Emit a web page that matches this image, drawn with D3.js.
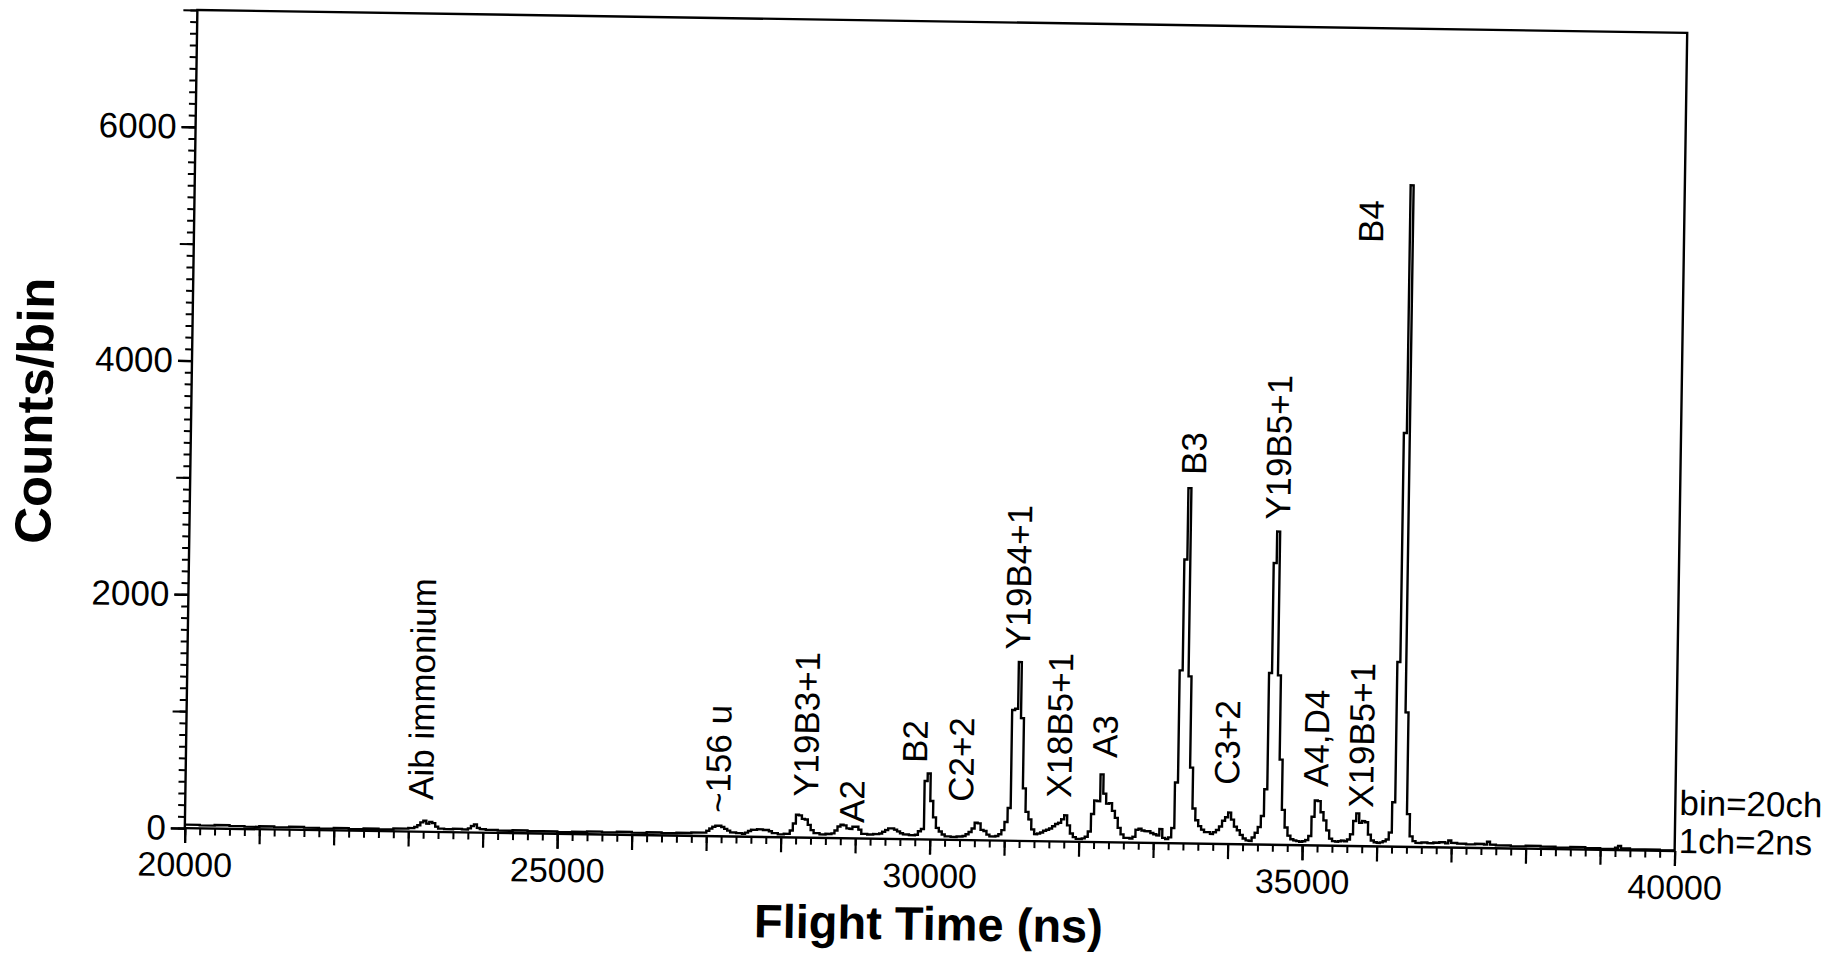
<!DOCTYPE html>
<html>
<head>
<meta charset="utf-8">
<script src="https://cdn.jsdelivr.net/npm/d3@7"></script>
<style>
  html, body { margin: 0; padding: 0; background: #fff; }
  svg { display: block; }
  text { font-family: "Liberation Sans", Arial, Helvetica, sans-serif; fill: #000; }
</style>
</head>
<body>
<svg id="chart" width="1838" height="953"></svg>
<script>
// ---------- data ----------
const flightTimes = [
  20000,20200,20400,20600,20800,21000,21200,21400,21600,21800,22000,22200,22400,22600,22800,23000,
  23080,23120,23160,23200,23240,23280,23320,23360,23400,23480,23600,23720,23800,23840,23880,23920,23960,
  24040,24200,24400,24600,24800,25000,25200,25400,25600,25800,26000,26200,26400,26600,26800,
  27000,27040,27080,27120,27160,27200,27240,27280,27320,27400,27480,27520,
  27560,27600,27680,27760,27840,27880,27960,28040,
  28120,28160,28200,28240,28280,28320,28360,28400,28440,28520,28600,28680,
  28720,28760,28800,28840,28880,28920,28960,29000,29040,29080,29160,29240,29320,
  29360,29400,29440,29480,29520,29560,29600,29640,29720,29800,29840,29880,
  29920,29960,30000,30040,30080,30120,30160,30200,30280,30360,30440,
  30480,30520,30560,30600,30640,30680,30720,30760,30800,30880,30920,
  30960,31000,31040,31080,31120,31160,31200,31240,31280,31320,31360,31400,
  31440,31480,31520,31560,31600,31640,31680,31720,31760,31800,31840,31880,31920,31960,32040,
  32080,32120,32160,32200,32240,32280,32320,32360,32400,32440,32480,32520,32560,32600,32680,
  32720,32760,32800,32840,32880,32920,32960,33000,33040,33080,33120,33160,
  33200,33240,33280,33320,33360,33400,33440,33480,33520,33560,33600,33640,33680,33720,33760,
  33800,33840,33880,33920,33960,34000,34040,34080,34120,34160,34200,34240,34280,
  34320,34360,34400,34440,34480,34520,34560,34600,34640,34680,34720,34760,34800,34840,34880,
  34920,34960,35000,
  35040,35080,35120,35160,35200,35240,35280,35320,35360,35400,35440,35480,35520,35560,
  35600,35640,35680,35720,35760,35800,35840,35880,35920,35960,36000,36040,36080,
  36120,36160,36200,36240,36280,36320,36360,36400,36440,36480,36520,
  36600,36680,36760,36840,36920,36960,37000,37080,37200,37320,37440,37480,37520,37600,37800,
  38000,38200,38400,38600,38800,39000,39200,39240,39280,39400,39600,39800,40000
];
const countsPerBin = [
  30,25,30,25,20,25,20,25,20,15,20,15,20,15,25,30,
  40,55,80,95,70,85,75,45,30,25,30,25,35,55,70,40,30,
  25,20,25,20,20,15,20,25,20,25,20,25,20,25,30,
  45,65,80,90,90,80,65,50,35,30,25,35,
  50,60,65,60,50,35,25,30,
  60,120,195,190,160,155,110,65,40,30,35,40,
  65,100,115,110,85,80,100,100,75,40,35,40,45,
  60,75,90,90,80,65,50,40,35,40,70,90,
  500,565,330,190,100,70,45,30,25,30,35,
  50,70,100,150,145,90,80,50,35,40,55,
  90,160,280,1120,1130,1530,1050,450,250,185,100,60,
  65,75,90,100,110,130,150,160,190,225,140,70,40,25,30,
  45,90,240,355,350,580,415,330,335,270,210,125,70,40,35,
  50,110,120,105,100,100,85,75,65,120,45,35,
  50,130,520,1480,2430,3040,1430,650,300,200,150,120,100,100,85,
  100,120,150,200,230,270,210,150,120,80,50,35,30,
  60,100,150,245,475,1470,2410,2680,1450,730,300,150,80,50,40,
  35,30,35,
  45,80,245,385,380,285,215,130,60,40,35,40,45,40,
  55,100,215,280,200,215,205,100,50,35,30,35,45,
  60,120,380,1580,3540,5660,1150,280,90,50,35,
  40,35,40,45,35,60,40,35,30,35,30,55,30,25,20,
  25,20,15,20,15,10,20,35,15,10,10,5,5
];

const peakLabels      = ["Aib immonium","~156 u","Y19B3+1","A2","B2","C2+2","Y19B4+1","X18B5+1","A3","B3","C3+2","Y19B5+1","A4,D4","X19B5+1","B4"];
const peakLabelTimes  = [23324, 27314, 28491, 29114, 29948, 30573, 31307, 31888, 32497, 33633, 34140, 34770, 35336, 35943, 35961];
const peakLabelCounts = [272, 200, 349, 132, 654, 326, 1634, 373, 722, 3154, 507, 2780, 501, 328, 5162];

const xDomain = [20000, 40000];
const yDomain = [0, 7000];
const xLabelTicks = [20000, 25000, 30000, 35000, 40000];
const yLabelTicks = [0, 2000, 4000, 6000];
const xTitle = "Flight Time (ns)";
const yTitle = "Counts/bin";
const noteLines = ["bin=20ch", "1ch=2ns"];

// ---------- layout ----------
const L = 191, R = 1681, T = 21.4, B = 839.6;
const svg = d3.select("#chart");
svg.append("rect").attr("width", 1838).attr("height", 953).attr("fill", "#fff");

const g = svg.append("g").attr("transform", "rotate(0.88, 937.5, 430.75)");

const x = d3.scaleLinear().domain(xDomain).range([L, R]);
const y = d3.scaleLinear().domain(yDomain).range([B, T]);

const range = (a, b, s) => d3.range(a, b + s / 2, s);

function styleAxis(sel, w) {
  sel.select(".domain").remove();
  sel.selectAll(".tick line").attr("stroke", "#000").attr("stroke-width", w);
}

// x axis : minor (200), mid (1000), labelled (5000)
g.append("g").attr("transform", `translate(0,${B})`)
  .call(d3.axisBottom(x).tickValues(range(20000, 40000, 200)).tickSize(7).tickFormat(""))
  .call(s => styleAxis(s, 2));
g.append("g").attr("transform", `translate(0,${B})`)
  .call(d3.axisBottom(x).tickValues(range(20000, 40000, 1000)).tickSize(15).tickFormat(""))
  .call(s => styleAxis(s, 2.2));
g.append("g").attr("transform", `translate(0,${B})`)
  .call(d3.axisBottom(x).tickValues(xLabelTicks).tickSize(15).tickPadding(9).tickFormat(d3.format("d")))
  .call(s => styleAxis(s, 2.2))
  .call(s => s.selectAll("text").attr("font-size", 34).attr("fill", "#000"));

// y axis : minor (100), mid (1000), labelled (2000)
g.append("g").attr("transform", `translate(${L},0)`)
  .call(d3.axisLeft(y).tickValues(range(0, 7000, 100)).tickSize(7).tickFormat(""))
  .call(s => styleAxis(s, 2));
g.append("g").attr("transform", `translate(${L},0)`)
  .call(d3.axisLeft(y).tickValues(range(0, 7000, 1000)).tickSize(14).tickFormat(""))
  .call(s => styleAxis(s, 2.2));
g.append("g").attr("transform", `translate(${L},0)`)
  .call(d3.axisLeft(y).tickValues(yLabelTicks).tickSize(14).tickPadding(5).tickFormat(d3.format("d")))
  .call(s => styleAxis(s, 2.2))
  .call(s => s.selectAll("text").attr("font-size", 35).attr("fill", "#000"));

// frame
g.append("rect")
  .attr("x", x(xDomain[0])).attr("y", y(yDomain[1]))
  .attr("width", x(xDomain[1]) - x(xDomain[0]))
  .attr("height", y(yDomain[0]) - y(yDomain[1]))
  .attr("fill", "none").attr("stroke", "#000").attr("stroke-width", 2.4);

// spectrum (step histogram)
const spectrum = flightTimes.map((t, i) => [t, countsPerBin[i]]);
g.append("path")
  .datum(spectrum)
  .attr("fill", "none")
  .attr("stroke", "#000")
  .attr("stroke-width", 2.4)
  .attr("stroke-linejoin", "miter")
  .attr("d", d3.line().x(d => x(d[0])).y(d => y(d[1])).curve(d3.curveStepAfter));

// peak labels (vertical)
g.append("g").selectAll("text")
  .data(peakLabels)
  .join("text")
  .attr("transform", (d, i) => `translate(${x(peakLabelTimes[i])},${y(peakLabelCounts[i])}) rotate(-90)`)
  .attr("text-anchor", "start")
  .attr("font-size", 35)
  .text(d => d);

// note at the right of the frame
g.append("g").selectAll("text")
  .data(noteLines)
  .join("text")
  .attr("x", x(xDomain[1]) + 4)
  .attr("y", (d, i) => y(yDomain[0]) - 36 + i * 38)
  .attr("font-size", 35)
  .text(d => d);

// axis titles
g.append("text")
  .attr("x", (x(xDomain[0]) + x(xDomain[1])) / 2)
  .attr("y", 940)
  .attr("text-anchor", "middle")
  .attr("font-size", 47)
  .attr("font-weight", "bold")
  .text(xTitle);

g.append("text")
  .attr("transform", `translate(52,${(y(yDomain[0]) + y(yDomain[1])) / 2 - 6}) rotate(-90)`)
  .attr("text-anchor", "middle")
  .attr("font-size", 51)
  .attr("font-weight", "bold")
  .text(yTitle);
</script>
</body>
</html>
